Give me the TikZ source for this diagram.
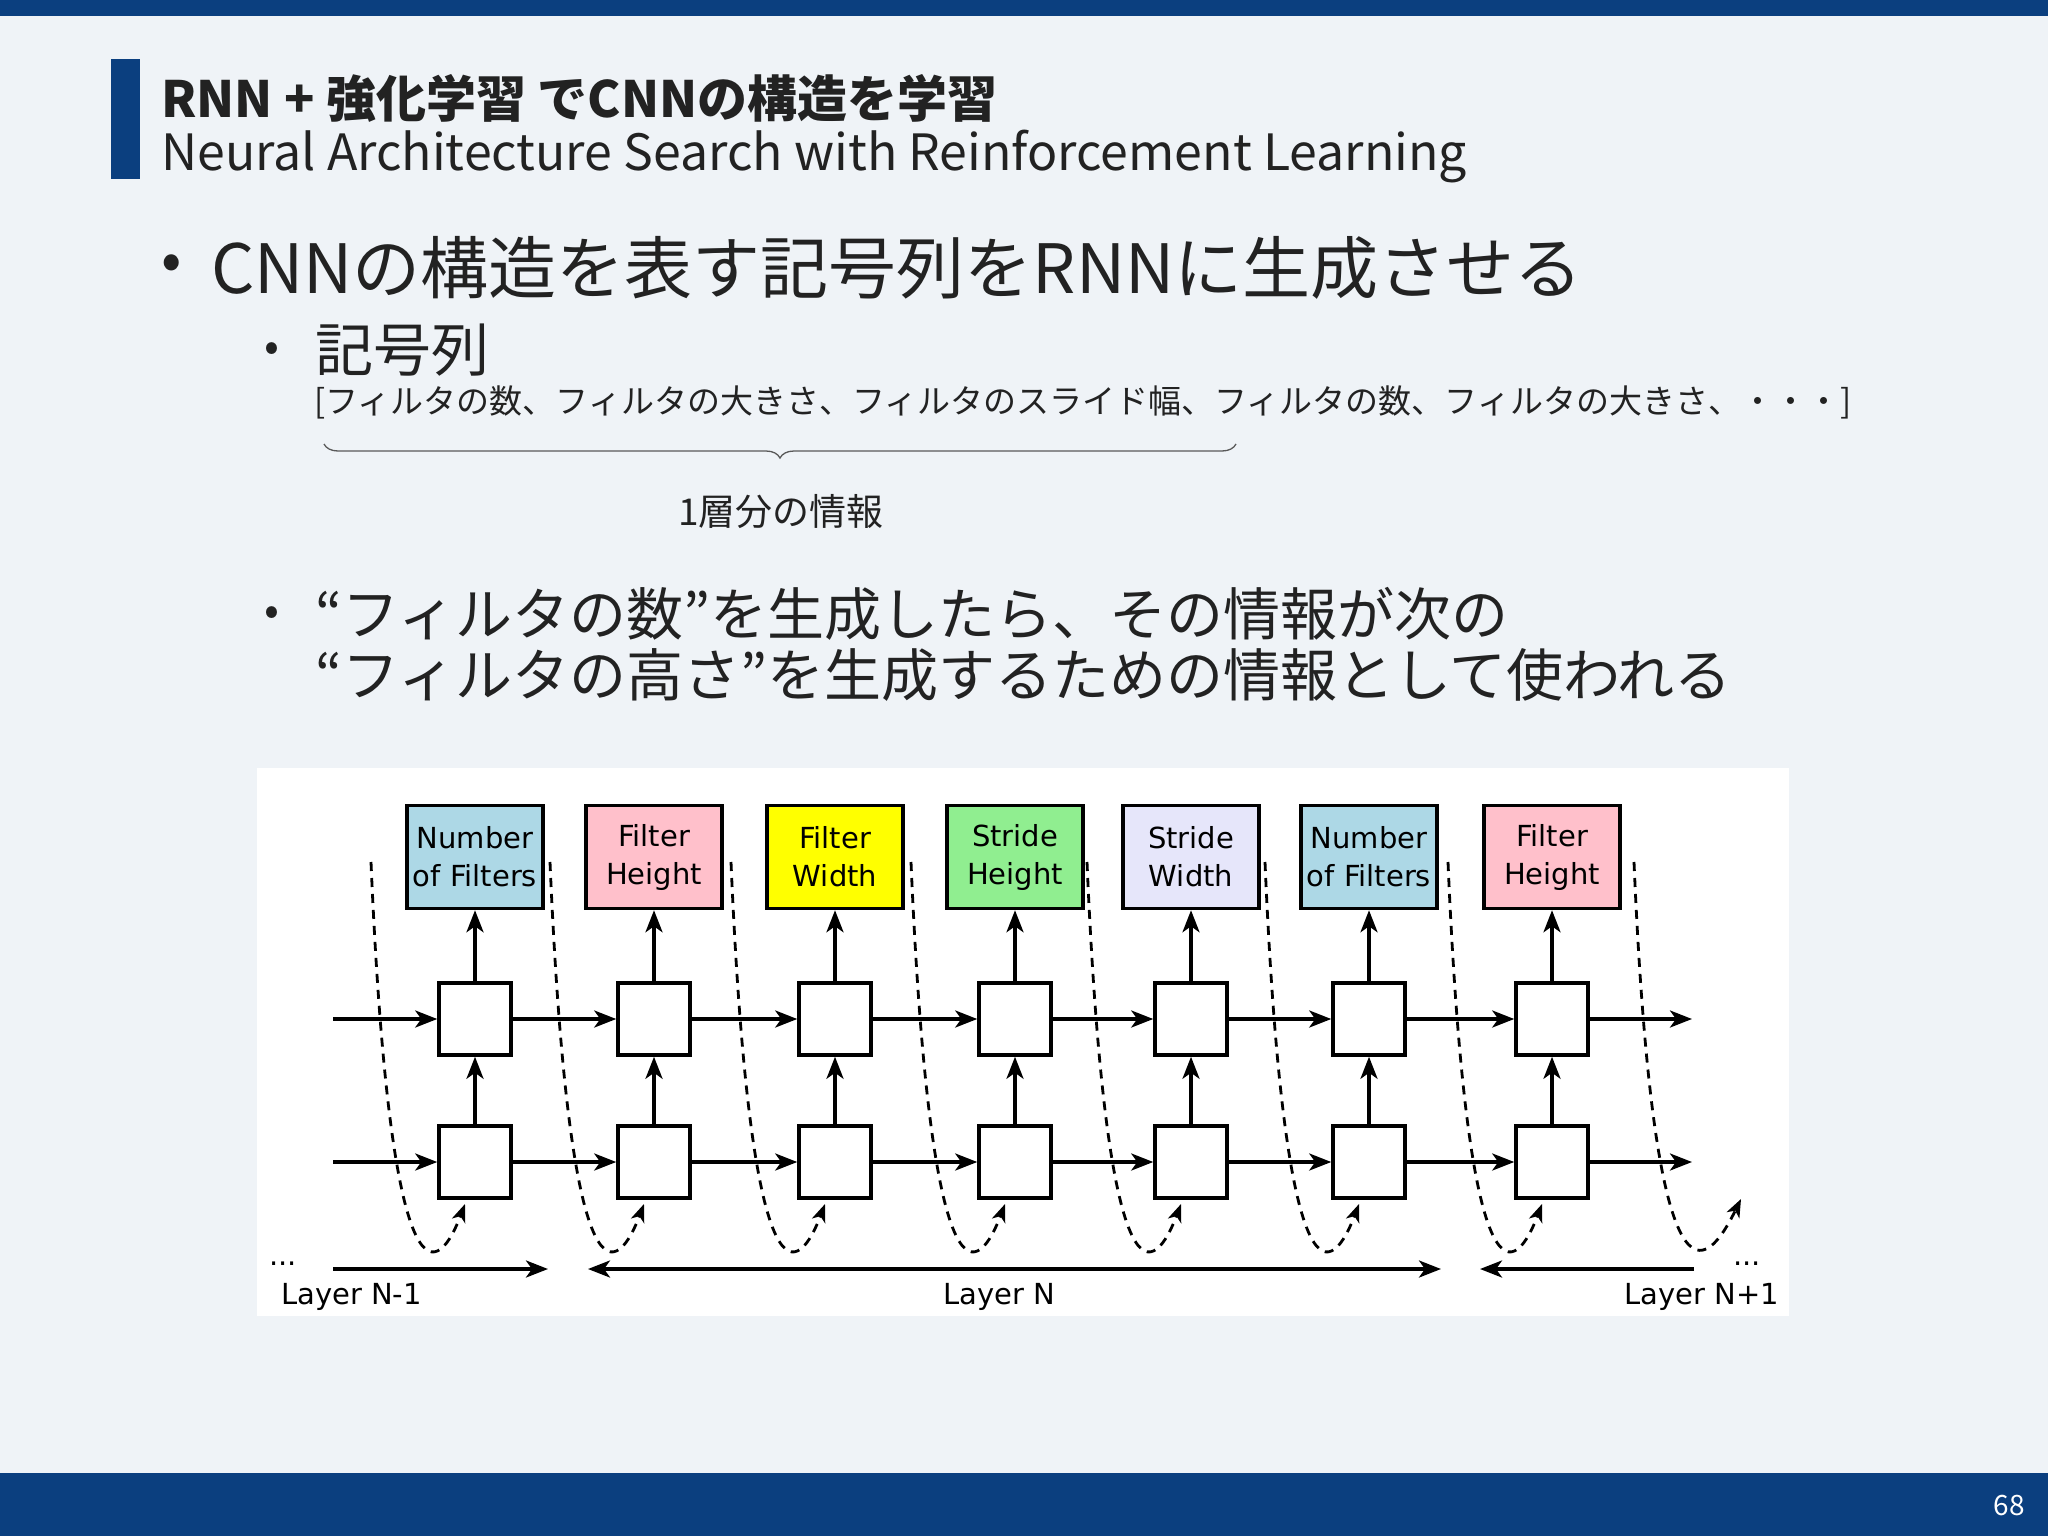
\documentclass[tikz,border=0pt]{standalone}
\usepackage{fontspec}
\setmainfont{Noto Sans CJK JP}
\newfontfamily\djvfont{DejaVu Sans}
\usetikzlibrary{arrows.meta,decorations.pathreplacing}
\definecolor{navy}{HTML}{0B3F7F}
\definecolor{bgc}{HTML}{EFF3F7}
\definecolor{txt}{HTML}{222222}
\definecolor{cA}{HTML}{ADD8E6}
\definecolor{cB}{HTML}{FFC0CB}
\definecolor{cC}{HTML}{FFFF00}
\definecolor{cD}{HTML}{90EE90}
\definecolor{cE}{HTML}{E6E6FA}
\tikzset{
 outbox/.style={draw=black,line width=3.5pt,minimum width=136pt,minimum height=103pt,inner sep=0pt,align=center,font=\djvfont\fontsize{29}{38}\selectfont},
 cell/.style={draw=black,fill=white,line width=3.5pt,minimum width=72pt,minimum height=72pt,inner sep=0pt},
 arr/.style={line width=3.5pt,-{Stealth[length=22pt,width=17pt,inset=6pt]}},
 darr/.style={line width=2.8pt,dash pattern=on 9pt off 7pt,-{Stealth[length=18pt,width=14pt,inset=5pt]}},
 lbl/.style={font=\djvfont\fontsize{29}{30}\selectfont,inner sep=0pt}
}
\begin{document}
\begin{tikzpicture}[x=1pt,y=-1pt]
\fill[bgc] (0,0) rectangle (2048,1536);
\useasboundingbox (0,0) rectangle (2048,1536);
\fill[navy] (0,0) rectangle (2048,16);
\fill[navy] (0,1473) rectangle (2048,1536);
\node[white,font=\fontsize{28}{30}\selectfont] (pg) at (2009,1506) {68};
\fill[navy] (111,59) rectangle (140,179);
\node[anchor=west,text=txt,font=\bfseries\fontsize{50}{54}\selectfont,inner sep=0pt] (t1) at (161,98) {RNN + 強化学習 でCNNの構造を学習};
\node[anchor=west,text=txt,font=\fontsize{50}{54}\selectfont,inner sep=0pt] (t2) at (161,157) {Neural Architecture Search with Reinforcement Learning};
\node[text=txt,font=\fontsize{60}{66}\selectfont,inner sep=0pt] (b1) at (172,268) {•};
\node[anchor=west,text=txt,font=\fontsize{68}{72}\selectfont,inner sep=0pt] (l1) at (211,268) {CNNの構造を表す記号列をRNNに生成させる};
\node[text=txt,font=\fontsize{44}{50}\selectfont,inner sep=0pt] (b2) at (272,352) {•};
\node[anchor=west,text=txt,font=\fontsize{58}{60}\selectfont,inner sep=0pt] (l2) at (315,350) {記号列};
\node[anchor=west,text=txt,font=\fontsize{33}{36}\selectfont,inner sep=0pt] (seq) at (314,402) {[フィルタの数、フィルタの大きさ、フィルタのスライド幅、フィルタの数、フィルタの大きさ、・・・]};
\coordinate (brA) at (324,444);
\coordinate (brB) at (1236,444);
\draw[gray!70!black,line width=1.3pt,decorate,decoration={brace,mirror,amplitude=14pt}] (brA) -- (brB);
\node[text=txt,font=\fontsize{37}{40}\selectfont,inner sep=0pt] (one) at (781,512) {1層分の情報};
\node[text=txt,font=\fontsize{44}{50}\selectfont,inner sep=0pt] (b3) at (272,616) {•};
\node[anchor=west,text=txt,font=\fontsize{57}{60}\selectfont,inner sep=0pt] (l3a) at (315,614) {“フィルタの数”を生成したら、その情報が次の};
\node[anchor=west,text=txt,font=\fontsize{57}{60}\selectfont,inner sep=0pt] (l3b) at (315,675) {“フィルタの高さ”を生成するための情報として使われる};
% diagram panel
\fill[white] (257,768) rectangle (1789,1316);
\foreach \i/\c/\col/\t in {1/475/cA/{Number\\of Filters},2/654/cB/{Filter\\Height},3/835/cC/{Filter\\Width},4/1015/cD/{Stride\\Height},5/1191/cE/{Stride\\Width},6/1369/cA/{Number\\of Filters},7/1552/cB/{Filter\\Height}}{
  \node[outbox,fill=\col] (o\i) at (\c,857) {\t};
  \node[cell] (u\i) at (\c,1019) {};
  \node[cell] (d\i) at (\c,1162) {};
  \draw[arr] (d\i) -- (u\i);
  \draw[arr] (u\i) -- (o\i);
  \coordinate (s\i) at (\c-104,862);
  \coordinate (e\i) at (\c-10,1204);
  \draw[darr] (s\i) .. controls (\c-84,1330) and (\c-35,1270) .. (e\i);
}
\coordinate (s8) at (1634,862);
\coordinate (e8) at (1741,1199);
\draw[darr] (s8) .. controls (1654,1330) and (1706,1270) .. (e8);
\coordinate (iu) at (333,1019);
\coordinate (id) at (333,1162);
\coordinate (ou) at (1692,1019);
\coordinate (od) at (1692,1162);
\draw[arr] (iu) -- (u1);
\draw[arr] (id) -- (d1);
\foreach \a/\b in {1/2,2/3,3/4,4/5,5/6,6/7}{
  \draw[arr] (u\a) -- (u\b);
  \draw[arr] (d\a) -- (d\b);
}
\draw[arr] (u7) -- (ou);
\draw[arr] (d7) -- (od);
% layer arrows
\coordinate (la1) at (333,1269); \coordinate (la2) at (548,1269);
\coordinate (lb1) at (588,1269); \coordinate (lb2) at (1441,1269);
\coordinate (lc1) at (1694,1269); \coordinate (lc2) at (1480,1269);
\draw[arr] (la1) -- (la2);
\draw[line width=3.5pt,{Stealth[length=22pt,width=17pt,inset=6pt]}-{Stealth[length=22pt,width=17pt,inset=6pt]}] (lb1) -- (lb2);
\draw[arr] (lc1) -- (lc2);
\node[lbl] (dots1) at (283,1264) {...};
\node[lbl] (dots2) at (1747,1264) {...};
\node[lbl,anchor=west] (ln1) at (281,1297) {Layer N-1};
\node[lbl] (ln) at (999,1297) {Layer N};
\node[lbl,anchor=east] (ln2) at (1779,1297) {Layer N+1};
\end{tikzpicture}
\end{document}
